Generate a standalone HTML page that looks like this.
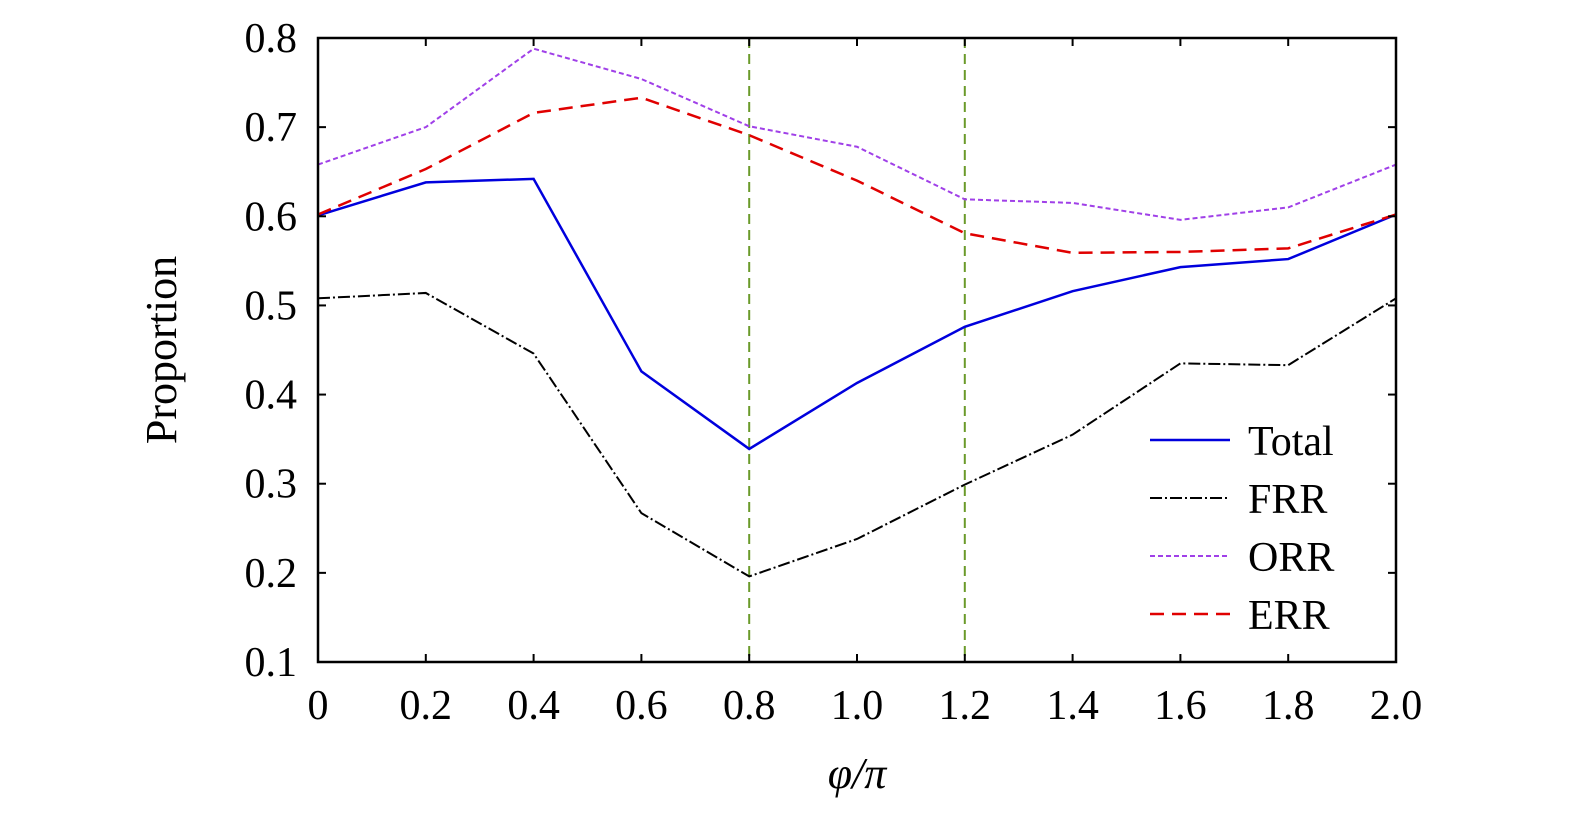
<!DOCTYPE html>
<html><head><meta charset="utf-8"><style>
body{margin:0;background:#fff;}
svg text{font-family:"Liberation Serif",serif;fill:#000;}
</style></head><body>
<svg id="chart" width="1575" height="817" xmlns="http://www.w3.org/2000/svg"></svg>
<script>
const xValues=[0,0.2,0.4,0.6,0.8,1.0,1.2,1.4,1.6,1.8,2.0];
const totalValues=[0.601,0.638,0.642,0.426,0.339,0.413,0.476,0.516,0.543,0.552,0.602];
const frrValues=[0.508,0.514,0.446,0.267,0.196,0.238,0.299,0.355,0.435,0.433,0.508];
const orrValues=[0.658,0.700,0.788,0.754,0.701,0.678,0.619,0.615,0.596,0.610,0.658];
const errValues=[0.602,0.653,0.716,0.733,0.691,0.640,0.581,0.559,0.560,0.564,0.602];
const xTickLabels=["0","0.2","0.4","0.6","0.8","1.0","1.2","1.4","1.6","1.8","2.0"];
const yTicks=[0.1,0.2,0.3,0.4,0.5,0.6,0.7,0.8];
const vLines=[0.8,1.2];

const svg=document.getElementById('chart');
const NS='http://www.w3.org/2000/svg';
const L=318,R=1396,T=38,B=662;
const xs=v=>L+(v-0)/2*(R-L);
const ys=v=>B-(v-0.1)/0.7*(B-T);
function mk(tag,attrs,parent){const e=document.createElementNS(NS,tag);for(const k in attrs)e.setAttribute(k,attrs[k]);(parent||svg).appendChild(e);return e;}

vLines.forEach(v=>{
  const l=mk('line',{x1:xs(v),x2:xs(v),y1:T,y2:B,stroke:'#6a9a2a','stroke-width':2,'stroke-dasharray':'10,6'});
  
  
});

const series=[
 {name:'Total',vals:totalValues,color:'#0000dd',dash:'',w:2.5},
 {name:'FRR',vals:frrValues,color:'#000',dash:'12,3,2,3',w:2},
 {name:'ORR',vals:orrValues,color:'#a040e8',dash:'5,3',w:2},
 {name:'ERR',vals:errValues,color:'#e00000',dash:'14,8',w:2.5}
];
series.forEach(s=>{
  const p=mk('polyline',{points:s.vals.map((v,i)=>xs(xValues[i])+','+ys(v)).join(' '),fill:'none',stroke:s.color,'stroke-width':s.w,'stroke-dasharray':s.dash});
  
  
});

const f=mk('rect',{x:L,y:T,width:R-L,height:B-T,fill:'none',stroke:'#000','stroke-width':2.5});



xValues.forEach((v,i)=>{
  mk('line',{x1:xs(v),x2:xs(v),y1:B,y2:B-8,stroke:'#000','stroke-width':2});
  mk('line',{x1:xs(v),x2:xs(v),y1:T,y2:T+8,stroke:'#000','stroke-width':2});
  const t=mk('text',{x:xs(v),y:719,'font-size':42,'text-anchor':'middle'});
  t.textContent=xTickLabels[i];
  
  
});
yTicks.forEach(v=>{
  mk('line',{x1:L,x2:L+8,y1:ys(v),y2:ys(v),stroke:'#000','stroke-width':2});
  mk('line',{x1:R,x2:R-8,y1:ys(v),y2:ys(v),stroke:'#000','stroke-width':2});
  const t=mk('text',{x:297,y:ys(v)+14,'font-size':42,'text-anchor':'end'});
  t.textContent=v.toFixed(1);
  
  
});

const xt=mk('text',{x:857,y:788,'font-size':44,'text-anchor':'middle','font-style':'italic'});
xt.textContent='φ/π';


const yt=mk('text',{x:0,y:0,'font-size':44,'text-anchor':'middle',transform:'translate(176,350) rotate(-90)'});
yt.textContent='Proportion';



series.forEach((s,i)=>{
  const y=440+i*58;
  const g=mk('g',{});
  
  
  mk('line',{x1:1150,x2:1230,y1:y,y2:y,stroke:s.color,'stroke-width':s.w,'stroke-dasharray':s.dash},g);
  const t=mk('text',{x:1248,y:y+15,'font-size':42},g);
  t.textContent=s.name;
});
</script>
</body></html>
